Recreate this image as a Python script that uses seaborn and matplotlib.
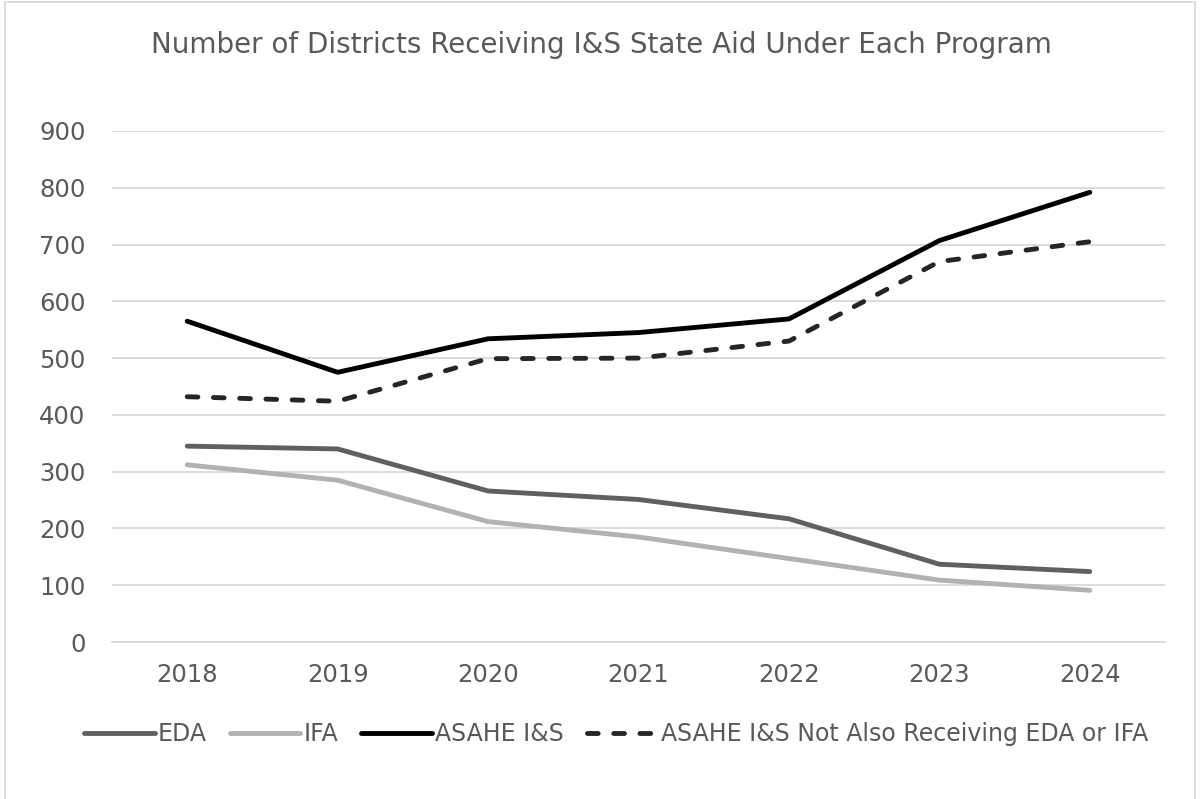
import matplotlib
matplotlib.use("Agg")
import matplotlib.pyplot as plt
import seaborn as sns
import pandas as pd
from matplotlib.patches import Rectangle

years = ["2018", "2019", "2020", "2021", "2022", "2023", "2024"]
eda = [345, 340, 266, 251, 217, 137, 124]
ifa = [312, 285, 212, 185, 147, 109, 91]
asahe = [565, 475, 534, 545, 569, 707, 792]
asahe_not = [432, 424, 499, 500, 530, 670, 705]
series_names = ["EDA", "IFA", "ASAHE I&S", "ASAHE I&S Not Also Receiving EDA or IFA"]
yticks = [0, 100, 200, 300, 400, 500, 600, 700, 800, 900]

sns.set_theme(style="white")
plt.rcParams['font.family'] = ['DejaVu Sans']

fig = plt.figure(figsize=(12.02, 7.99), dpi=100)
ax = fig.add_axes([112/1202, 1 - 642/799, 1053/1202, (642-131)/799])

colors = ["#606060", "#b2b2b2", "#000000", "#262626"]
styles = ["-", "-", "-", (0, (2.2, 3.2))]
for name, vals, c, ls in zip(series_names, [eda, ifa, asahe, asahe_not], colors, styles):
    df = pd.DataFrame({"year": years, "value": vals})
    sns.lineplot(data=df, x="year", y="value", ax=ax, color=c, linewidth=3.5,
                 linestyle=ls, label=name, solid_capstyle="round", dash_capstyle="round")

ax.set_xlim(-0.5, 6.5)
ax.set_ylim(0, 900)
ax.set_yticks(yticks)
ax.set_yticklabels([str(v) for v in yticks])
ax.yaxis.grid(True, color="#d9d9d9", linewidth=1.3)
ax.set_axisbelow(True)
for s in ["top", "right", "left"]:
    ax.spines[s].set_visible(False)
ax.spines["bottom"].set_color("#d9d9d9")
ax.spines["bottom"].set_linewidth(1.3)
ax.set_xlabel("")
ax.set_ylabel("")
ax.tick_params(axis="both", length=0, labelsize=17.5, labelcolor="#595959")
ax.tick_params(axis="x", pad=15)
ax.tick_params(axis="y", pad=19)

fig.text(0.5, 1 - 45/799, "Number of Districts Receiving I&S State Aid Under Each Program",
         ha="center", va="center", fontsize=20, color="#595959")

ax.get_legend().remove()
handles, labels = ax.get_legend_handles_labels()
leg = fig.legend(handles, labels, loc="center", bbox_to_anchor=(616/1202, 1 - 734/799), ncol=4,
                 frameon=False, fontsize=17, handlelength=3.0, columnspacing=0.95,
                 handletextpad=0.15, labelcolor="#595959")

fig.add_artist(Rectangle((5/1202, -5/799), 1190/1202, 802/799, transform=fig.transFigure,
                         fill=False, edgecolor="#d9d9d9", linewidth=1.3))

fig.savefig("out.png", dpi=100)
